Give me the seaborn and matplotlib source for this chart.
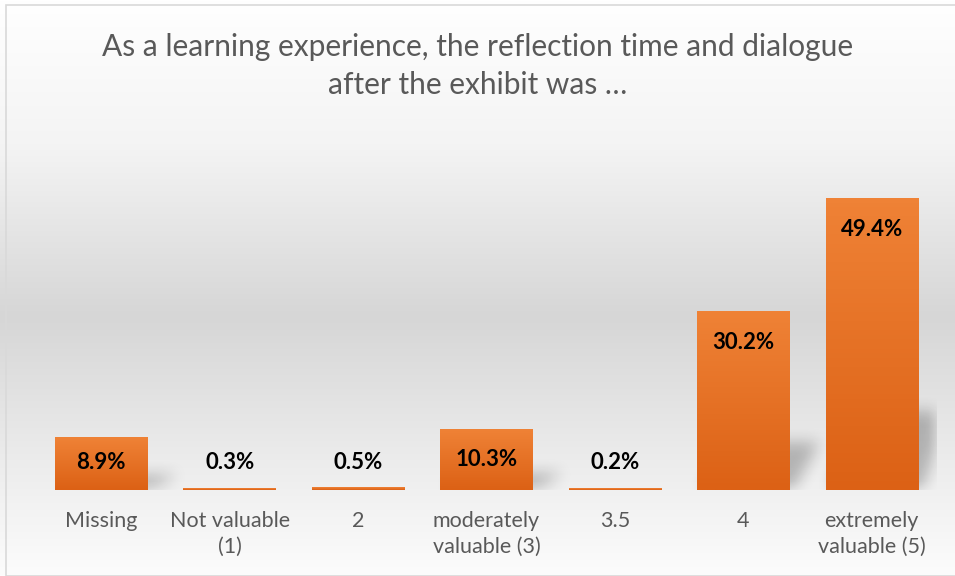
import numpy as np
import matplotlib
matplotlib.use("Agg")
import matplotlib.pyplot as plt
import seaborn as sns
from matplotlib.colors import LinearSegmentedColormap

# dados do grafico
categorias = ["Missing", "Not valuable\n(1)", "2", "moderately\nvaluable (3)",
              "3.5", "4", "extremely\nvaluable (5)"]
valores = [8.9, 0.3, 0.5, 10.3, 0.2, 30.2, 49.4]
rotulos = ["8.9%", "0.3%", "0.5%", "10.3%", "0.2%", "30.2%", "49.4%"]
titulo = "As a learning experience, the reflection time and dialogue\nafter the exhibit was …"

sns.set_theme(style="white")
plt.rcParams['font.family'] = ['Lato', 'DejaVu Sans']

fig = plt.figure(figsize=(9.55, 5.76), dpi=100)

# fundo com degrade (branco -> cinza -> branco)
bg = fig.add_axes([0, 0, 1, 1], zorder=0)
grad = LinearSegmentedColormap.from_list(
    "bg", [(0, "#ffffff"), (0.25, "#f4f4f4"), (0.55, "#d6d6d6"),
           (0.8, "#ececec"), (1, "#fcfcfc")])
bg.imshow(np.linspace(0, 1, 256).reshape(-1, 1), aspect="auto", cmap=grad,
          extent=[0, 1, 0, 1], origin="upper")
bg.add_patch(plt.Rectangle((6/955, 0), 1, 1 - 5/576, fill=False,
                           edgecolor="#d9d9d9", lw=1.2, transform=bg.transAxes))
bg.set_xlim(0, 1); bg.set_ylim(0, 1)
bg.axis("off")

ax = fig.add_axes([37/955, 86/576, 899/955, 354/576], zorder=1)
ax.patch.set_alpha(0)
sns.barplot(x=categorias, y=valores, color="#e8722a", width=0.72, ax=ax,
            saturation=1)

# sombra suave atras das barras (mascara + blur simples)
nx, ny = 900, 354
xs = np.linspace(-0.5, 6.5, nx)
ys = np.linspace(0, 60, ny)
X, Y = np.meshgrid(xs, ys)
mask = np.zeros_like(X)
for p in ax.patches:
    h = p.get_height()
    if h < 1:
        continue
    hs = 0.27 * h
    x0 = p.get_x() + 0.03 + 0.2 * Y / hs
    mask[(Y <= hs) & (X >= x0) & (X <= x0 + p.get_width())] = 1
kern = np.ones(17) / 17
for _ in range(2):
    mask = np.apply_along_axis(lambda r: np.convolve(r, kern, mode="same"), 1, mask)
    mask = np.apply_along_axis(lambda c: np.convolve(c, kern, mode="same"), 0, mask)
sombra = np.zeros((ny, nx, 4))
sombra[..., 3] = mask * 0.24
ax.imshow(sombra, extent=[-0.5, 6.5, 0, 60], origin="lower", aspect="auto", zorder=1)

# degrade nas barras
laranja = LinearSegmentedColormap.from_list("bar", ["#ef8236", "#dc6115"])
for p in ax.patches:
    x0, y0 = p.get_x(), p.get_y()
    w, h = p.get_width(), p.get_height()
    ax.imshow(np.linspace(0, 1, 64).reshape(-1, 1), cmap=laranja, aspect="auto",
              extent=[x0, x0 + w, y0, y0 + h], origin="upper", zorder=2)
    p.set_visible(False)

for i, (v, r) in enumerate(zip(valores, rotulos)):
    ax.text(i, max(v - 5.2, 4.6), r, ha="center", va="center",
            fontsize=16, fontweight="bold", color="black", zorder=3)

ax.set_xlim(-0.5, 6.5)
ax.set_ylim(0, 60)
ax.set_yticks([])
ax.tick_params(axis="x", length=0, pad=15, labelsize=15.5, labelcolor="#595959")
for t in ax.get_xticklabels():
    t.set_linespacing(1.35)
sns.despine(ax=ax, left=True, bottom=True)

fig.text(0.5, 1 - 66/576, titulo, ha="center", va="center", fontsize=21.5,
         color="#595959", linespacing=1.4)

fig.savefig("out.png", dpi=100)
